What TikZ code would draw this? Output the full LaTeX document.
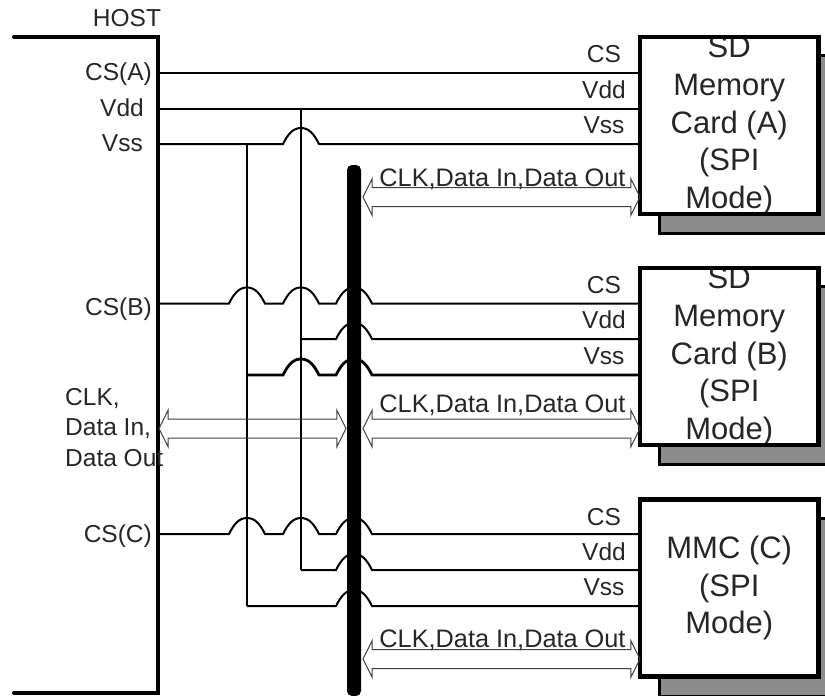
\documentclass[tikz,border=0pt]{standalone}
\usepackage{fontspec}
\setmainfont{Liberation Sans}
\usetikzlibrary{shapes.arrows}

\begin{document}
\begin{tikzpicture}[x=1pt,y=-1pt]
\tikzstyle{pin} = [inner sep=0pt, text=black!85, font=\fontsize{24.5}{30}\selectfont]
\tikzstyle{pinright} = [pin, anchor=base east]
\tikzstyle{pinmid} = [pin, anchor=base]
\tikzstyle{clktext} = [pinmid, font=\fontsize{25.3}{30}\selectfont]
\tikzstyle{hostline} = [line width=4pt, line cap=round, line join=miter]
\tikzstyle{wire} = [line width=2pt]
\tikzstyle{rail} = [line width=2.8pt]
\tikzstyle{busbar} = [rectangle, fill=black, rounded corners=5pt, minimum width=14pt, minimum height=531pt, inner sep=0pt]
\tikzstyle{card} = [rectangle, minimum width=178.5pt, minimum height=177pt, inner sep=0pt, draw=black, fill=white, line width=4.5pt]
\tikzstyle{cardtext} = [inner sep=0pt, align=center, text=black!85, font=\fontsize{31}{37.8}\selectfont]
\tikzstyle{shadowbox} = [rectangle, anchor=north west, minimum width=180pt, minimum height=178pt, inner sep=0pt, draw=black, fill=black!45, line width=3pt]
\tikzstyle{bigarrow} = [shape=double arrow, draw=black!75, line width=1pt, inner xsep=0pt, inner ysep=9pt, double arrow head extend=9pt, double arrow tip angle=127]
\tikzset{hop/.style 2 args={insert path={-- (#1-18,#2) .. controls (#1-13,#2-10) and (#1-8,#2-16) .. (#1,#2-16) .. controls (#1+8,#2-16) and (#1+13,#2-10) .. (#1+18,#2)}}}

\clip (0,0) rectangle (825,696);

\node (shadowa) [shadowbox] at (658,54) {};
\node (shadowb) [shadowbox] at (658,285) {};
\node (shadowc) [shadowbox] at (658,517) {};

\node (carda) [card, path picture={\node [cardtext] at (path picture bounding box.center) {SD\\Memory\\Card (A)\\(SPI\\Mode)};}] at (729.25,125.5) {};
\node (cardb) [card, path picture={\node [cardtext] at (path picture bounding box.center) {SD\\Memory\\Card (B)\\(SPI\\Mode)};}] at (729.25,356.5) {};
\node (cardc) [card, path picture={\node [cardtext] at (path picture bounding box.center) {MMC (C)\\(SPI\\Mode)};}] at (729.25,588) {};

\coordinate (hostcsa) at (158,73);
\coordinate (hostvdd) at (158,108.5);
\coordinate (hostvss) at (158,144);
\coordinate (hostcsb) at (158,303.5);
\coordinate (hostcsc) at (158,534);
\coordinate (vddb) at (301,339);
\coordinate (vssb) at (247,375);
\coordinate (vddc) at (301,570);
\coordinate (vssc) at (247,606);
\coordinate (vddtop) at (301,108.5);
\coordinate (vsstop) at (247,144);

\draw [hostline] (14,37) -- (158,37) -- (158,693) -- (14,693);

\draw [wire] (hostcsa) -- (carda.west |- hostcsa);
\draw [wire] (hostvdd) -- (carda.west |- hostvdd);
\draw [wire] (hostvss) [hop={301}{144}] -- (carda.west |- hostvss);
\draw [wire] (vddtop) -- (vddc);
\draw [rail] (vsstop) -- (vssc);

\draw [wire] (hostcsb) [hop={247}{303.5}, hop={301}{303.5}, hop={354}{303.5}] -- (cardb.west |- hostcsb);
\draw [wire] (vddb) [hop={354}{339}] -- (cardb.west |- vddb);
\draw [rail] (vssb) [hop={301}{375}, hop={354}{375}] -- (cardb.west |- vssb);

\draw [wire] (hostcsc) [hop={247}{534}, hop={301}{534}, hop={354}{534}] -- (cardc.west |- hostcsc);
\draw [wire] (vddc) [hop={354}{570}] -- (cardc.west |- vddc);
\draw [wire] (vssc) [hop={354}{606}] -- (cardc.west |- vssc);

\node (bus) [busbar] at (354,430.5) {};

\node (clka) [bigarrow, minimum height=277pt] at (501.5,197) {};
\node (clkb) [bigarrow, minimum height=277pt] at (501.5,428.5) {};
\node (clkc) [bigarrow, minimum height=277pt] at (501.5,659) {};
\node (clkhost) [bigarrow, minimum height=187pt] at (252.5,428.5) {};

\node (host) [pinmid] at (127,26.5) {HOST};
\node (lcsa) [pinright] at (152,80.5) {CS(A)};
\node (lvdd) [pinright] at (144,116) {Vdd};
\node (lvss) [pinright] at (143,151) {Vss};
\node (lcsb) [pinright] at (152,315) {CS(B)};
\node (lcsc) [pinright] at (152,542) {CS(C)};
\node (lclk) [pin, anchor=base west] at (65,405) {CLK,};
\node (ldatain) [pin, anchor=base west] at (65,435) {Data In,};
\node (ldataout) [pin, anchor=base west] at (65,466) {Data Out};

\node (csa) [pinmid] at (604,62) {CS};
\node (vdda) [pinmid] at (604,98) {Vdd};
\node (vssa) [pinmid] at (604,133) {Vss};
\node (csb) [pinmid] at (604,293) {CS};
\node (vddbl) [pinmid] at (604,328.5) {Vdd};
\node (vssbl) [pinmid] at (604,364) {Vss};
\node (csc) [pinmid] at (604,525) {CS};
\node (vddcl) [pinmid] at (604,560) {Vdd};
\node (vsscl) [pinmid] at (604,595) {Vss};

\node (texta) [clktext] at (502.5,186) {CLK,Data In,Data Out};
\node (textb) [clktext] at (502.5,412.5) {CLK,Data In,Data Out};
\node (textc) [clktext] at (502.5,647.5) {CLK,Data In,Data Out};
\end{tikzpicture}
\end{document}
